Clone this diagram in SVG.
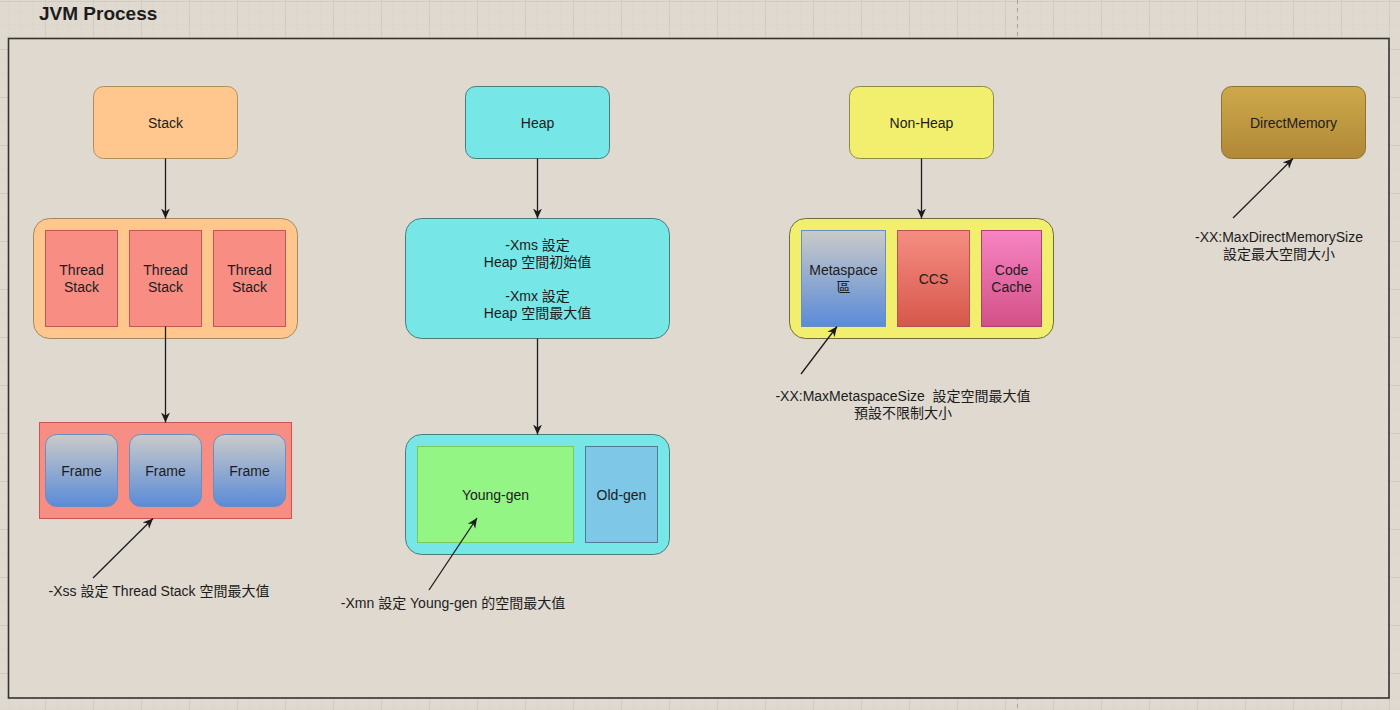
<svg xmlns="http://www.w3.org/2000/svg" width="1400" height="710" viewBox="0 0 1400 710">
  <defs>
    <style>
      text { font-family: "Liberation Sans", "Noto Sans CJK TC", sans-serif; font-size: 14px; fill: #1c1c1c; text-anchor: middle; }
      .title { font-size: 19px; font-weight: bold; text-anchor: start; }
      .note { font-size: 14px; }
      .edge { stroke: #1c1c1c; stroke-width: 1.3; fill: none; }
    </style>
    <pattern id="grid" x="45" y="1" width="48" height="48" patternUnits="userSpaceOnUse">
      <path d="M12 0V48M24 0V48M36 0V48M0 12H48M0 24H48M0 36H48" stroke="#dbd5cc" stroke-width="1" fill="none"/>
      <path d="M0.5 0V48M0 0.5H48" stroke="#d1cbc2" stroke-width="1" fill="none"/>
    </pattern>
    <linearGradient id="gBlue" x1="0" y1="0" x2="0" y2="1">
      <stop offset="0" stop-color="#cacac8"/>
      <stop offset="1" stop-color="#5a8bd8"/>
    </linearGradient>
    <linearGradient id="gRed" x1="0" y1="0" x2="0" y2="1">
      <stop offset="0" stop-color="#f68d82"/>
      <stop offset="1" stop-color="#d6574b"/>
    </linearGradient>
    <linearGradient id="gPink" x1="0" y1="0" x2="0" y2="1">
      <stop offset="0" stop-color="#f784c4"/>
      <stop offset="1" stop-color="#d25086"/>
    </linearGradient>
    <linearGradient id="gGold" x1="0" y1="0" x2="0" y2="1">
      <stop offset="0" stop-color="#cda94b"/>
      <stop offset="1" stop-color="#b18837"/>
    </linearGradient>
    <marker id="arrow" viewBox="0 0 10 10" refX="10" refY="5" markerWidth="10" markerHeight="10" markerUnits="userSpaceOnUse" orient="auto">
      <path d="M0 0.5L10 5L0 9.5L3 5Z" fill="#1c1c1c"/>
    </marker>
  </defs>

  <!-- canvas background with grid -->
  <rect x="0" y="0" width="1400" height="710" fill="#dfd9d0"/>
  <rect x="0" y="0" width="1400" height="710" fill="url(#grid)"/>
  <line x1="1017.5" y1="0" x2="1017.5" y2="710" stroke="#a8a39b" stroke-width="1" stroke-dasharray="4 4"/>

  <!-- process frame -->
  <g id="jvm-process">
    <text class="title" x="39" y="20">JVM Process</text>
    <rect x="8.5" y="38.5" width="1380.5" height="659.5" fill="#dfd9d0" stroke="#333333" stroke-width="1.6"/>
  </g>

  <!-- Stack column -->
  <g id="stack">
    <rect x="93.5" y="86.5" width="144" height="72" rx="10" fill="#ffc78d" stroke="#b0905a"/>
    <text x="165.5" y="127.5">Stack</text>
  </g>
  <g id="thread-stacks">
    <rect x="33.5" y="218.5" width="264" height="120" rx="16" fill="#ffc78d" stroke="#a38a5c"/>
    <rect x="45.5" y="230.5" width="72" height="96" fill="#f88d84" stroke="#c8564f"/>
    <rect x="129.5" y="230.5" width="72" height="96" fill="#f88d84" stroke="#c8564f"/>
    <rect x="213.5" y="230.5" width="72" height="96" fill="#f88d84" stroke="#c8564f"/>
    <text x="81.5" y="274.5">Thread</text><text x="81.5" y="291.5">Stack</text>
    <text x="165.5" y="274.5">Thread</text><text x="165.5" y="291.5">Stack</text>
    <text x="249.5" y="274.5">Thread</text><text x="249.5" y="291.5">Stack</text>
  </g>
  <g id="frames">
    <rect x="39.5" y="422.5" width="252" height="96" fill="#f88d84" stroke="#c8564f"/>
    <rect x="45.5" y="434.5" width="72" height="72" rx="11" fill="url(#gBlue)" stroke="#6c8ebf"/>
    <rect x="129.5" y="434.5" width="72" height="72" rx="11" fill="url(#gBlue)" stroke="#6c8ebf"/>
    <rect x="213.5" y="434.5" width="72" height="72" rx="11" fill="url(#gBlue)" stroke="#6c8ebf"/>
    <text x="81.5" y="475.5">Frame</text>
    <text x="165.5" y="475.5">Frame</text>
    <text x="249.5" y="475.5">Frame</text>
  </g>
  <g id="xss-note">
    <text class="note" x="159" y="596">-Xss 設定 Thread Stack 空間最大值</text>
  </g>

  <!-- Heap column -->
  <g id="heap">
    <rect x="465.5" y="86.5" width="144" height="72" rx="10" fill="#77e6e6" stroke="#4a7c7c"/>
    <text x="537.5" y="127.5">Heap</text>
  </g>
  <g id="heap-settings">
    <rect x="405.5" y="218.5" width="264" height="120" rx="16" fill="#77e6e6" stroke="#4a7c7c"/>
    <text x="537.5" y="250">-Xms 設定</text>
    <text x="537.5" y="267">Heap 空間初始值</text>
    <text x="537.5" y="301">-Xmx 設定</text>
    <text x="537.5" y="318">Heap 空間最大值</text>
  </g>
  <g id="generations">
    <rect x="405.5" y="434.5" width="264" height="120" rx="16" fill="#77e6e6" stroke="#4a7c7c"/>
    <rect x="417.5" y="446.5" width="156" height="96" fill="#93f583" stroke="#78c85c"/>
    <rect x="585.5" y="446.5" width="72" height="96" fill="#7ec7e6" stroke="#4e7d8f"/>
    <text x="495.5" y="499.5">Young-gen</text>
    <text x="621.5" y="499.5">Old-gen</text>
  </g>
  <g id="xmn-note">
    <text class="note" x="453" y="608">-Xmn 設定 Young-gen 的空間最大值</text>
  </g>

  <!-- Non-Heap column -->
  <g id="non-heap">
    <rect x="849.5" y="86.5" width="144" height="72" rx="10" fill="#f2ee6e" stroke="#8c8a44"/>
    <text x="921.5" y="127.5">Non-Heap</text>
  </g>
  <g id="non-heap-areas">
    <rect x="789.5" y="218.5" width="264" height="120" rx="16" fill="#f2ee6e" stroke="#6e6c3a"/>
    <rect x="801.5" y="230.5" width="84" height="96" fill="url(#gBlue)" stroke="#6c8ebf"/>
    <rect x="897.5" y="230.5" width="72" height="96" fill="url(#gRed)" stroke="#b85450"/>
    <rect x="981.5" y="230.5" width="60" height="96" fill="url(#gPink)" stroke="#b0426f"/>
    <text x="843.5" y="274.5">Metaspace</text><text x="843.5" y="291.5">區</text>
    <text x="933.5" y="283.5">CCS</text>
    <text x="1011.5" y="274.5">Code</text><text x="1011.5" y="291.5">Cache</text>
  </g>
  <g id="metaspace-note">
    <text class="note" x="903" y="400.5">-XX:MaxMetaspaceSize&#160; 設定空間最大值</text>
    <text class="note" x="903" y="417.5">預設不限制大小</text>
  </g>

  <!-- DirectMemory column -->
  <g id="direct-memory">
    <rect x="1221.5" y="86.5" width="144" height="72" rx="10" fill="url(#gGold)" stroke="#8d7236"/>
    <text x="1293.5" y="127.5">DirectMemory</text>
  </g>
  <g id="direct-memory-note">
    <text class="note" x="1279" y="242">-XX:MaxDirectMemorySize</text>
    <text class="note" x="1279" y="259">設定最大空間大小</text>
  </g>

  <!-- connectors -->
  <g id="connectors">
    <line class="edge" x1="165.5" y1="158.5" x2="165.5" y2="218.5" marker-end="url(#arrow)"/>
    <line class="edge" x1="165.5" y1="326.5" x2="165.5" y2="422.5" marker-end="url(#arrow)"/>
    <line class="edge" x1="93" y1="578" x2="153" y2="518.5" marker-end="url(#arrow)"/>
    <line class="edge" x1="537.5" y1="158.5" x2="537.5" y2="218.5" marker-end="url(#arrow)"/>
    <line class="edge" x1="537.5" y1="338.5" x2="537.5" y2="434.5" marker-end="url(#arrow)"/>
    <line class="edge" x1="429" y1="590" x2="477" y2="518" marker-end="url(#arrow)"/>
    <line class="edge" x1="921.5" y1="158.5" x2="921.5" y2="218.5" marker-end="url(#arrow)"/>
    <line class="edge" x1="801" y1="374" x2="837" y2="326.5" marker-end="url(#arrow)"/>
    <line class="edge" x1="1233" y1="218" x2="1293" y2="158.5" marker-end="url(#arrow)"/>
  </g>
</svg>
